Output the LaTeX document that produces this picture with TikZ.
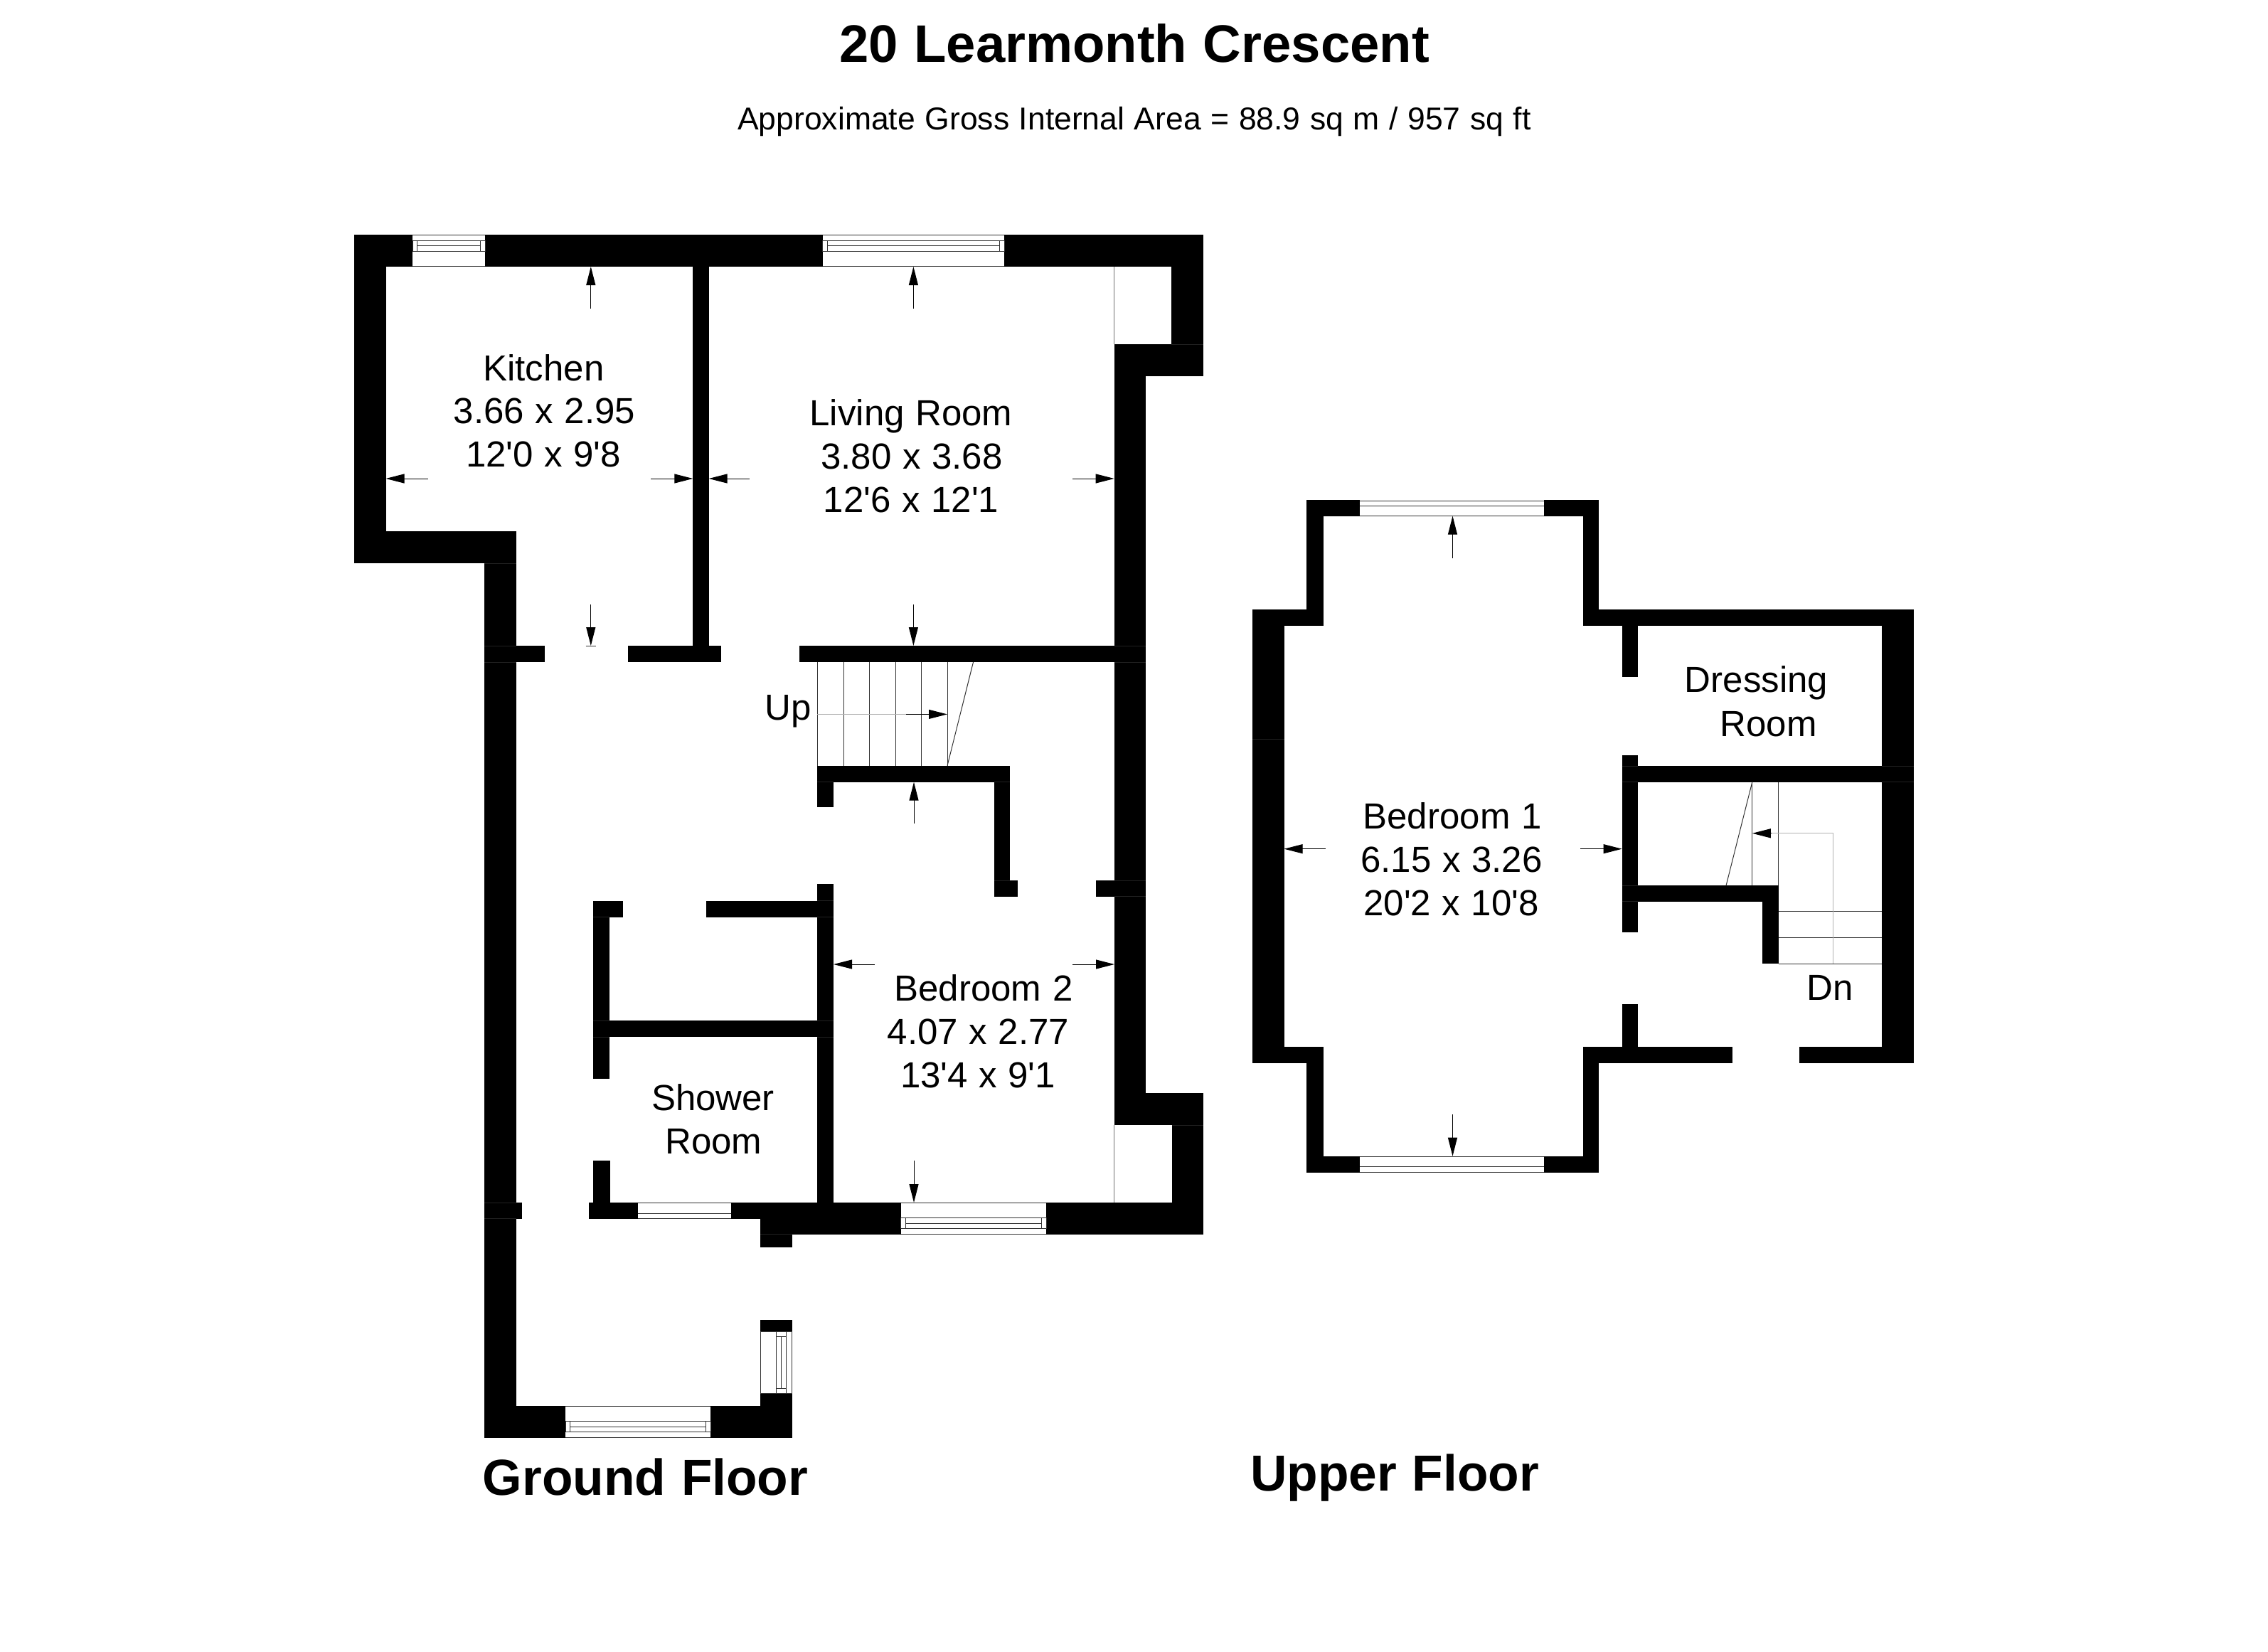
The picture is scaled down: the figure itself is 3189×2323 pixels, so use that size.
\documentclass[tikz,border=0pt]{standalone}
\usepackage{fontspec}
\usetikzlibrary{arrows.meta,calc}
\newfontfamily\planfont{Liberation Sans}
\newfontfamily\subfont[WordSpace=1.1]{Liberation Sans}
\definecolor{winline}{gray}{0.2}
\definecolor{seam}{gray}{0.45}
\definecolor{faint}{gray}{0.7}
\definecolor{joint}{gray}{0.13}
\tikzset{
  x=1pt,y=-1pt,
  wallfill/.style={fill=black,draw=none},
  thinline/.style={draw=winline,line width=1pt},
  greyline/.style={draw=seam,line width=1.2pt},
  faintline/.style={draw=faint,line width=1pt},
  jointline/.style={draw=joint,line width=0.7pt},
  dimarrow/.style={draw=black,line width=1pt,-{Triangle[length=26pt,width=13pt]}},
  roomlabel/.style={anchor=base,inner sep=0pt,font=\planfont\fontsize{51}{61}\selectfont},
  titlelabel/.style={anchor=base,inner sep=0pt,font=\planfont\bfseries\fontsize{74.3}{85}\selectfont},
  floorlabel/.style={anchor=base,inner sep=0pt,font=\planfont\bfseries\fontsize{71.3}{82}\selectfont},
  sublabel/.style={anchor=base,inner sep=0pt,font=\subfont\fontsize{44.5}{50}\selectfont},
}
\newcommand{\wallbox}[4]{\fill[wallfill] (#1,#2) rectangle (#3,#4);}
\newcommand{\jointH}[3]{\draw[jointline] (#1,#3) -- (#2,#3);}
% window with side boxes: x1, x2, outer y, direction (1 = inward is down, -1 = inward is up)
\newcommand{\winH}[4]{\begin{scope}[shift={(0,#3)},yscale=#4]
  \fill[white] (#1,0) rectangle (#2,45);
  \draw[thinline] (#1,0.7) -- (#2,0.7) (#1,8.3) -- (#2,8.3) (#1,23) -- (#2,23);
  \draw[thinline] (#1,44.7) -- (#2,44.7);
  \draw[thinline] (#1,8.3) rectangle ++(6.8,14.7);
  \draw[thinline] (#2,8.3) rectangle ++(-6.8,14.7);
  \draw[thinline] (#1,15.7) ++(6.8,0) -- ($(#2,15.7)+(-6.8,0)$);
\end{scope}}
\begin{document}
\begin{tikzpicture}
\useasboundingbox (0,0) rectangle (3189,2323);
\fill[white] (0,0) rectangle (3189,2323);
% ---- ground floor walls
\wallbox{497.5}{330}{1692}{375}
\wallbox{497.5}{375}{542.5}{747}
\wallbox{497.5}{747}{725.5}{792}
\wallbox{681}{792}{725.7}{2021.7}
\wallbox{681}{908}{766}{931}
\wallbox{882.6}{908}{1014}{931}
\wallbox{974.3}{375}{996.6}{908}
\wallbox{1123.5}{908}{1611.3}{931}
\wallbox{1647}{375}{1692}{484}
\wallbox{1566.7}{484}{1692}{529}
\wallbox{1566.7}{529}{1611.3}{1537}
\wallbox{1566.7}{1537}{1692}{1582}
\wallbox{1648}{1582}{1692}{1691}
\wallbox{1540.7}{1238}{1611.3}{1260.8}
\wallbox{1149}{1076.7}{1420}{1099.7}
\wallbox{1149}{1099.7}{1172}{1134.5}
\wallbox{1398}{1099.7}{1420}{1238}
\wallbox{1398}{1238}{1431}{1260.8}
\wallbox{1149}{1243.2}{1172}{1691}
\wallbox{993}{1266.5}{1172}{1289.5}
\wallbox{834}{1266.5}{876}{1289.5}
\wallbox{834}{1289.5}{857}{1516.6}
\wallbox{834}{1435}{1172}{1458}
\wallbox{834}{1632.3}{857.5}{1691}
\wallbox{828.3}{1691}{1692}{1713.7}
\wallbox{1069}{1713.7}{1692}{1735.7}
\wallbox{1069}{1735}{1113.7}{1753.7}
\wallbox{681}{1691}{734}{1713.7}
\wallbox{681}{1976.7}{1113.7}{2021.7}
\wallbox{1069}{1855.7}{1113.7}{1976.7}
% joints between wall segments, ground floor
\jointH{681}{725.7}{792}
\jointH{681}{725.7}{908}
\jointH{681}{725.7}{931}
\jointH{1566.7}{1611.3}{908}
\jointH{1566.7}{1611.3}{931}
\jointH{1566.7}{1611.3}{1238}
\jointH{1566.7}{1611.3}{1260.8}
\jointH{1647}{1692}{484}
\jointH{1149}{1172}{1099.7}
\jointH{1398}{1420}{1099.7}
\jointH{1398}{1420}{1238}
\jointH{834}{857}{1289.5}
\jointH{1149}{1172}{1266.5}
\jointH{1149}{1172}{1289.5}
\jointH{834}{857}{1435}
\jointH{834}{857}{1458}
\jointH{1149}{1172}{1435}
\jointH{1149}{1172}{1458}
\jointH{681}{725.7}{1691}
\jointH{681}{725.7}{1713.7}
\jointH{1069}{1113.7}{1735}
\jointH{1648}{1692}{1582}
% ---- ground floor windows
\winH{580}{682}{330}{1}
\winH{1156.7}{1412}{330}{1}
\winH{1266.8}{1471}{1735.7}{-1}
\winH{795}{999}{2021.7}{-1}
\fill[white] (897.3,1691) rectangle (1028,1713.5);
\draw[thinline] (897.3,1691.5) -- (1028,1691.5) (897.3,1706) -- (1028,1706) (897.3,1713) -- (1028,1713);
\fill[white] (1069,1872.3) rectangle (1113.7,1959);
\draw[thinline] (1069.5,1872.3) -- (1069.5,1959) (1091.3,1872.3) -- (1091.3,1959) (1105.7,1872.3) -- (1105.7,1959) (1113,1872.3) -- (1113,1959);
\draw[thinline] (1069,1872.3) -- (1113.7,1872.3) (1069,1959) -- (1113.7,1959);
\draw[thinline] (1091.3,1879) -- (1105.7,1879) (1091.3,1952.3) -- (1105.7,1952.3) (1098.3,1879) -- (1098.3,1952.3);
% thin lines
\draw[greyline] (1566.7,375) -- (1566.7,484);
\draw[greyline] (1566.7,1582) -- (1566.7,1691);
% stairs, ground floor
\draw[thinline] (1149,931) -- (1149,1076.7) (1186,931) -- (1186,1076.7) (1222.5,931) -- (1222.5,1076.7) (1259.5,931) -- (1259.5,1076.7) (1295.8,931) -- (1295.8,1076.7) (1332,931) -- (1332,1076.7);
\draw[thinline] (1368.5,931) -- (1332,1076.7);
\draw[faintline] (1149,1004.4) -- (1274,1004.4);
\draw[dimarrow] (1274,1004.4) -- (1332,1004.4);
% dimension arrows, ground floor
\draw[dimarrow] (830.8,433.7) -- (830.8,375);
\draw[dimarrow] (1284.4,433.7) -- (1284.4,375);
\draw[dimarrow] (602,673) -- (542.5,673);
\draw[dimarrow] (915.3,673) -- (974.3,673);
\draw[dimarrow] (1054,673) -- (996.6,673);
\draw[dimarrow] (1508.4,673) -- (1566.7,673);
\draw[dimarrow] (830.8,850) -- (830.8,908);
\draw[thinline] (823.5,908) -- (838,908);
\draw[dimarrow] (1284.4,850) -- (1284.4,908);
\draw[dimarrow] (1285,1157.8) -- (1285,1099.7);
\draw[dimarrow] (1230,1356) -- (1172,1356);
\draw[dimarrow] (1508,1356) -- (1567,1356);
\draw[dimarrow] (1285,1632) -- (1285,1691);
% ---- upper floor walls
\wallbox{1837}{703.4}{2248}{725.6}
\wallbox{1837}{725.6}{1860.6}{857.2}
\wallbox{2225.6}{725.6}{2248}{857.2}
\wallbox{1761}{857.2}{1860.6}{879.8}
\wallbox{2225.6}{857.2}{2691}{879.8}
\wallbox{1761}{879.8}{1805.6}{1472}
\wallbox{1761}{1472}{1860.6}{1494.5}
\wallbox{1837}{1494.5}{1860.6}{1625.7}
\wallbox{1837}{1625.7}{2248}{1648.7}
\wallbox{2225.6}{1494.5}{2248}{1625.7}
\wallbox{2225.6}{1472}{2436}{1494.5}
\wallbox{2530}{1472}{2691}{1494.5}
\wallbox{2646}{879.8}{2691}{1472}
\wallbox{2280.6}{879.8}{2303}{952}
\wallbox{2280.6}{1062.4}{2303}{1311}
\wallbox{2280.6}{1077.3}{2691}{1099.5}
\wallbox{2280.6}{1245.3}{2500.6}{1267.5}
\wallbox{2478}{1267.5}{2500.6}{1355}
\wallbox{2280.6}{1412}{2303}{1472}
% joints between wall segments, upper floor
\jointH{1761}{1805.6}{1039}
\jointH{2280.6}{2303}{1077.3}
\jointH{2280.6}{2303}{1099.5}
\jointH{2280.6}{2303}{1245.3}
\jointH{2280.6}{2303}{1267.5}
\jointH{2646}{2691}{1077.3}
\jointH{2646}{2691}{1099.5}
% ---- upper floor windows
\fill[white] (1912,703.4) rectangle (2171,725.6);
\draw[thinline] (1912,704) -- (2171,704) (1912,711) -- (2171,711) (1912,725.2) -- (2171,725.2);
\fill[white] (1912,1625.7) rectangle (2171,1648.7);
\draw[thinline] (1912,1626) -- (2171,1626) (1912,1640.6) -- (2171,1640.6) (1912,1648) -- (2171,1648);
% stairs, upper floor
\draw[thinline] (2463.8,1099.5) -- (2463.8,1245.3) (2500.6,1099.5) -- (2500.6,1245.3);
\draw[thinline] (2463.8,1099.5) -- (2427,1245.3);
\draw[thinline] (2500.6,1281.7) -- (2646,1281.7) (2500.6,1318.8) -- (2646,1318.8) (2500.6,1355) -- (2646,1355);
\draw[faintline] (2577,1355) -- (2577,1171.8) -- (2490,1171.8);
\draw[dimarrow] (2491,1171.8) -- (2463.8,1171.8);
% dimension arrows, upper floor
\draw[dimarrow] (2042.5,784.5) -- (2042.5,725.6);
\draw[dimarrow] (2042.5,1567) -- (2042.5,1625.7);
\draw[dimarrow] (1863.8,1193.7) -- (1805.6,1193.7);
\draw[dimarrow] (2222,1193.7) -- (2280.6,1193.7);
% ---- text
\node[titlelabel] (title) at (1595,87.3) {20 Learmonth Crescent};
\node[sublabel] (subtitle) at (1595,182.7) {Approximate Gross Internal Area = 88.9 sq m / 957 sq ft};
\node[roomlabel] (kit1) at (764.5,535) {Kitchen};
\node[roomlabel] (kit2) at (765.5,595) {3.66 x 2.95};
\node[roomlabel] (kit3) at (764,656.7) {12'0 x 9'8};
\node[roomlabel] (liv1) at (1281,598) {Living Room};
\node[roomlabel] (liv2) at (1282,659.6) {3.80 x 3.68};
\node[roomlabel] (liv3) at (1281,720.7) {12'6 x 12'1};
\node[roomlabel] (up) at (1108,1012) {Up};
\node[roomlabel] (bed2a) at (1383,1407.4) {Bedroom 2};
\node[roomlabel] (bed2b) at (1375.5,1468.6) {4.07 x 2.77};
\node[roomlabel] (bed2c) at (1375,1529.6) {13'4 x 9'1};
\node[roomlabel] (show1) at (1002.5,1561) {Shower};
\node[roomlabel] (show2) at (1003.4,1622) {Room};
\node[roomlabel] (bed1a) at (2042,1165) {Bedroom 1};
\node[roomlabel] (bed1b) at (2041,1226) {6.15 x 3.26};
\node[roomlabel] (bed1c) at (2040.5,1287.8) {20'2 x 10'8};
\node[roomlabel] (dress1) at (2469.5,973) {Dressing};
\node[roomlabel] (dress2) at (2486.5,1035) {Room};
\node[roomlabel] (dn) at (2573.4,1406.4) {Dn};
\node[floorlabel] (ground) at (907.5,2102.5) {Ground Floor};
\node[floorlabel] (upper) at (1961,2096) {Upper Floor};
\end{tikzpicture}
\end{document}
